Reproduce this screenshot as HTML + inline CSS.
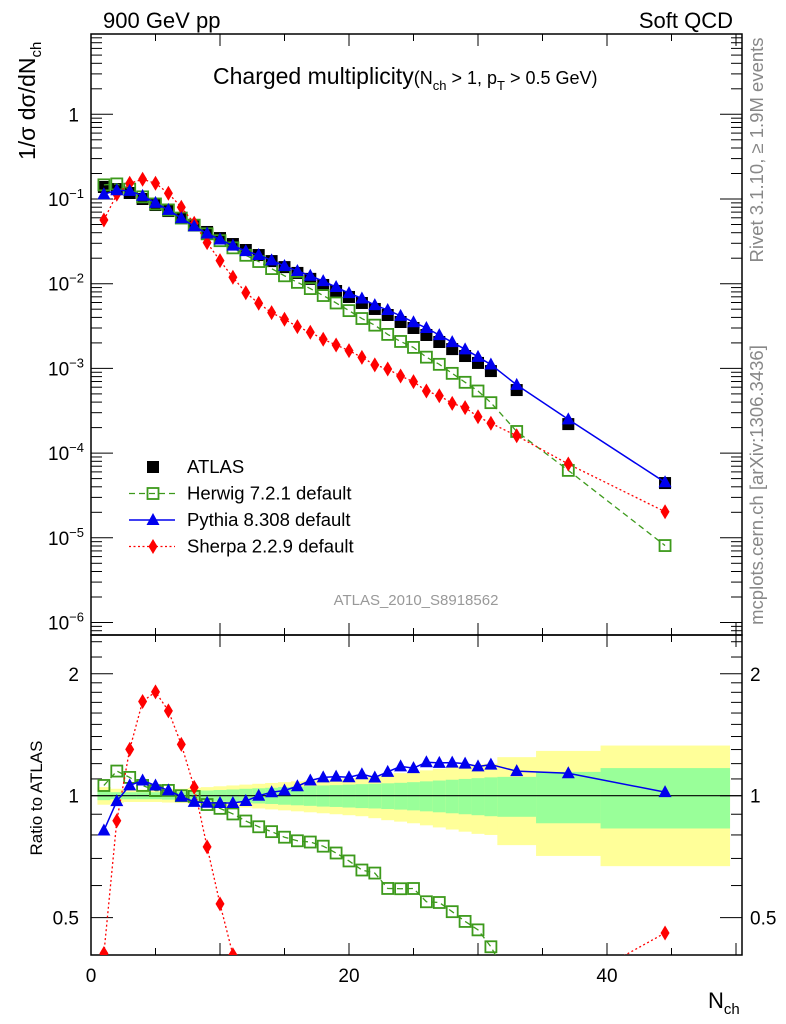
<!DOCTYPE html>
<html><head><meta charset="utf-8"><style>
html,body{margin:0;padding:0;background:#fff;width:786px;height:1024px;overflow:hidden;}
svg{display:block;font-family:"Liberation Sans",sans-serif;}
</style></head><body>
<svg id="chart" width="786" height="1024" viewBox="0 0 786 1024" xmlns="http://www.w3.org/2000/svg">
<g id="bands"></g>
<g id="axes"></g>
<g id="series"></g>
<text x="103" y="28" font-size="22">900 GeV pp</text>
<text x="733" y="28" font-size="22" text-anchor="end">Soft QCD</text>
<text x="213" y="84" font-size="23">Charged multiplicity<tspan font-size="18">(N</tspan><tspan font-size="13" dy="6">ch</tspan><tspan font-size="18" dy="-6"> &gt; 1, p</tspan><tspan font-size="13" dy="6">T</tspan><tspan font-size="18" dy="-6"> &gt; 0.5 GeV)</tspan></text>
<text transform="translate(35,160) rotate(-90)" font-size="23">1/σ dσ/dN<tspan font-size="15" dy="6">ch</tspan></text>
<text transform="translate(42,798) rotate(-90)" font-size="17" text-anchor="middle">Ratio to ATLAS</text>
<text x="708" y="1008" font-size="22">N<tspan font-size="15" dy="6">ch</tspan></text>
<text x="416" y="605" font-size="15" fill="#999" text-anchor="middle">ATLAS_2010_S8918562</text>
<text transform="translate(763,150) rotate(-90)" font-size="18.5" fill="#888" text-anchor="middle">Rivet 3.1.10, ≥ 1.9M events</text>
<text transform="translate(763,485) rotate(-90)" font-size="18.5" fill="#888" text-anchor="middle">mcplots.cern.ch [arXiv:1306.3436]</text>
<g id="legend"></g>
</svg>
<script>
const xVals=[1,2,3,4,5,6,7,8,9,10,11,12,13,14,15,16,17,18,19,20,21,22,23,24,25,26,27,28,29,30,31,33,37,44.5];
const binLo=[0.5,1.5,2.5,3.5,4.5,5.5,6.5,7.5,8.5,9.5,10.5,11.5,12.5,13.5,14.5,15.5,16.5,17.5,18.5,19.5,20.5,21.5,22.5,23.5,24.5,25.5,26.5,27.5,28.5,29.5,30.5,31.5,34.5,39.5];
const binHi=[1.5,2.5,3.5,4.5,5.5,6.5,7.5,8.5,9.5,10.5,11.5,12.5,13.5,14.5,15.5,16.5,17.5,18.5,19.5,20.5,21.5,22.5,23.5,24.5,25.5,26.5,27.5,28.5,29.5,30.5,31.5,34.5,39.5,49.5];
const atlas=[0.1386,0.131,0.1177,0.100,0.0849,0.0721,0.0596,0.0493,0.0408,0.0346,0.0294,0.0250,0.0218,0.0185,0.0157,0.0134,0.0114,0.00966,0.0082,0.00697,0.00592,0.00503,0.00427,0.00353,0.00300,0.00248,0.00205,0.00169,0.00140,0.00116,0.00093,0.000555,0.000220,0.0000443];
const statErr=[.025,.02,.02,.02,.02,.022,.025,.028,.03,.033,.036,.04,.043,.046,.05,.053,.056,.06,.062,.065,.068,.07,.073,.076,.08,.085,.09,.095,.1,.105,.11,.113,.145,.17];
const totErr=[.05,.04,.035,.035,.035,.038,.04,.045,.05,.055,.06,.065,.07,.075,.08,.085,.09,.095,.1,.105,.11,.12,.13,.137,.145,.155,.165,.175,.185,.195,.2,.245,.29,.33];
const herwig=[0.1469,0.1507,0.1306,0.106,0.0874,0.0743,0.0596,0.0491,0.0388,0.0322,0.0265,0.02165,0.01827,0.01508,0.0124,0.01037,0.00876,0.00725,0.00592,0.00481,0.00388,0.00324,0.00252,0.00208,0.00177,0.001357,0.001117,0.000874,0.000685,0.000541,0.000394,0.00018,0.0000625,0.0000081];
const pythia=[0.1137,0.127,0.1248,0.109,0.090,0.0743,0.0593,0.0476,0.0392,0.0332,0.0282,0.02425,0.0218,0.01887,0.01617,0.01414,0.01243,0.01072,0.00914,0.00774,0.00669,0.00558,0.00489,0.00417,0.00351,0.00300,0.00247,0.00204,0.00168,0.00137,0.00111,0.000638,0.00025,0.0000452];
const sherpa=[0.0565,0.1136,0.1532,0.1709,0.1532,0.1168,0.0798,0.0517,0.0305,0.0187,0.0119,0.00783,0.00587,0.00455,0.00380,0.00311,0.00267,0.00221,0.00189,0.00162,0.00135,0.00110,0.000984,0.000813,0.000697,0.000541,0.000476,0.000387,0.000344,0.000269,0.000225,0.000160,0.0000743,0.0000203];
const xTicks=[0,20,40];
const mainDecades=[0,-1,-2,-3,-4,-5,-6];
const ratioTicks=[0.5,1,2];

const NS="http://www.w3.org/2000/svg";
const L=91,R=742,T=34,MB=635,RB=955;
const xs=v=>L+12.9*v;
const ym=v=>114.3-84.7*Math.log10(v);
const yr=r=>795.7-405*Math.log10(r);
function mk(tag,attrs,parent){const e=document.createElementNS(NS,tag);for(const k in attrs)e.setAttribute(k,attrs[k]);parent.appendChild(e);return e;}
const defs=mk('defs',{},document.getElementById('chart'));
const c1=mk('clipPath',{id:'cm'},defs);mk('rect',{x:L,y:T,width:R-L,height:MB-T},c1);
const c2=mk('clipPath',{id:'cr'},defs);mk('rect',{x:L,y:MB,width:R-L,height:RB-MB},c2);

const bands=document.getElementById('bands');
for(let i=0;i<xVals.length;i++){
  const y1=mk('rect',{x:xs(binLo[i]),width:xs(binHi[i])-xs(binLo[i])+0.5,y:yr(1+totErr[i]),height:yr(1-totErr[i])-yr(1+totErr[i]),fill:'#ffff99'},bands);
  
  
  const g1=mk('rect',{x:xs(binLo[i]),width:xs(binHi[i])-xs(binLo[i])+0.5,y:yr(1+statErr[i]),height:yr(1-statErr[i])-yr(1+statErr[i]),fill:'#99ff99'},bands);
  
  
}

const ax=document.getElementById('axes');
mk('rect',{x:L,y:T,width:R-L,height:MB-T,fill:'none',stroke:'#000','stroke-width':1.5},ax);
mk('rect',{x:L,y:MB,width:R-L,height:RB-MB,fill:'none',stroke:'#000','stroke-width':1.5},ax);
mk('line',{x1:L,x2:R,y1:yr(1),y2:yr(1),stroke:'#000','stroke-width':1.2},ax);
for(let v=0;v<=50;v+=5){
  const len=(v%10===0)?12:7;
  [T,MB].forEach(y0=>{mk('line',{x1:xs(v),x2:xs(v),y1:y0,y2:y0+len,stroke:'#000'},ax);mk('line',{x1:xs(v),x2:xs(v),y1:MB,y2:MB-len,stroke:'#000'},ax);});
  mk('line',{x1:xs(v),x2:xs(v),y1:RB,y2:RB-len,stroke:'#000'},ax);
}
xTicks.forEach(v=>{const t=mk('text',{x:xs(v),y:982,'font-size':19,'text-anchor':'middle'},ax);t.textContent=v;
  
  });
for(let d=1;d>=-7;d--){
  for(let m=1;m<10;m++){
    const v=m*Math.pow(10,d);const y=ym(v);if(y<T||y>MB)continue;
    const len=m===1?22:11;
    mk('line',{x1:L,x2:L+len,y1:y,y2:y,stroke:'#000'},ax);
    mk('line',{x1:R,x2:R-len,y1:y,y2:y,stroke:'#000'},ax);
  }
}
mainDecades.forEach(d=>{
  const t=mk('text',{x:d===0?79:84,y:ym(Math.pow(10,d))+7,'font-size':19,'text-anchor':'end'},ax);
  
  
  if(d===0){t.textContent='1';}
  else{t.textContent='10';const s=mk('tspan',{dy:-8,'font-size':13},t);s.textContent='−'+(-d);}
});
[0.4,0.5,0.6,0.7,0.8,0.9,1,1.1,1.2,1.3,1.4,1.5,1.6,1.7,1.8,1.9,2,2.2,2.4].forEach(r=>{
  const y=yr(r);if(y<MB||y>RB)return;
  const len=(r===0.5||r===1||r===2)?22:11;
  mk('line',{x1:L,x2:L+len,y1:y,y2:y,stroke:'#000'},ax);
  mk('line',{x1:R,x2:R-len,y1:y,y2:y,stroke:'#000'},ax);
});
ratioTicks.forEach(r=>{
  const t=mk('text',{x:79,y:yr(r)+7,'font-size':19,'text-anchor':'end'},ax);t.textContent=r;
  
  
  const t2=mk('text',{x:750,y:yr(r)+7,'font-size':19},ax);t2.textContent=r;
  
  
});

function marker(type,cx,cy,g,color){
  let e;
  if(type==='sq') e=mk('rect',{x:cx-6,y:cy-6,width:12,height:12,fill:'#000'},g);
  else if(type==='osq') e=mk('rect',{x:cx-5.5,y:cy-5.5,width:11,height:11,fill:'none',stroke:color,'stroke-width':1.8},g);
  else if(type==='tri') e=mk('polygon',{points:`${cx},${cy-7} ${cx-6.5},${cy+5} ${cx+6.5},${cy+5}`,fill:color},g);
  else e=mk('polygon',{points:`${cx},${cy-7.5} ${cx-4.5},${cy} ${cx},${cy+7.5} ${cx+4.5},${cy}`,fill:color},g);
  return e;
}
const sg=document.getElementById('series');
const gm=mk('g',{'clip-path':'url(#cm)'},sg);
const gr=mk('g',{'clip-path':'url(#cr)'},sg);
const series=[
  {name:'herwig',vals:herwig,color:'#3d9a1c',type:'osq',dash:'6,4',w:1.3},
  {name:'sherpa',vals:sherpa,color:'#ff0000',type:'dia',dash:'2,2.5',w:1.3},
  {name:'pythia',vals:pythia,color:'#0000ee',type:'tri',dash:'',w:1.5}
];
atlas.forEach((v,i)=>{
  const m=marker('sq',xs(xVals[i]),ym(v),gm);
  
  
});
series.forEach(s=>{
  const pm=xVals.map((x,i)=>xs(x)+','+ym(s.vals[i])).join(' ');
  const l1=mk('polyline',{points:pm,fill:'none',stroke:s.color,'stroke-width':s.w,'stroke-dasharray':s.dash},gm);
  
  
  const pr=xVals.map((x,i)=>xs(x)+','+yr(s.vals[i]/atlas[i])).join(' ');
  const l2=mk('polyline',{points:pr,fill:'none',stroke:s.color,'stroke-width':s.w,'stroke-dasharray':s.dash},gr);
  
  
  xVals.forEach((x,i)=>{
    const a=marker(s.type,xs(x),ym(s.vals[i]),gm,s.color);
    
    
    const b=marker(s.type,xs(x),yr(s.vals[i]/atlas[i]),gr,s.color);
    
    
  });
});

const lg=document.getElementById('legend');
const entries=[
  {label:'ATLAS',type:'sq',color:'#000',dash:null,w:0},
  {label:'Herwig 7.2.1 default',type:'osq',color:'#3d9a1c',dash:'6,4',w:1.3},
  {label:'Pythia 8.308 default',type:'tri',color:'#0000ee',dash:'',w:1.5},
  {label:'Sherpa 2.2.9 default',type:'dia',color:'#ff0000',dash:'2,2.5',w:1.3}
];
entries.forEach((e,i)=>{
  const y=467+26.5*i;
  const g=mk('g',{},lg);
  
  
  if(e.dash!==null) mk('line',{x1:129,x2:175,y1:y,y2:y,stroke:e.color,'stroke-width':e.w,'stroke-dasharray':e.dash},g);
  marker(e.type,153,y,g,e.color);
  const t=mk('text',{x:187,y:y+6,'font-size':18.5},g);t.textContent=e.label;
});
</script>
</body></html>
